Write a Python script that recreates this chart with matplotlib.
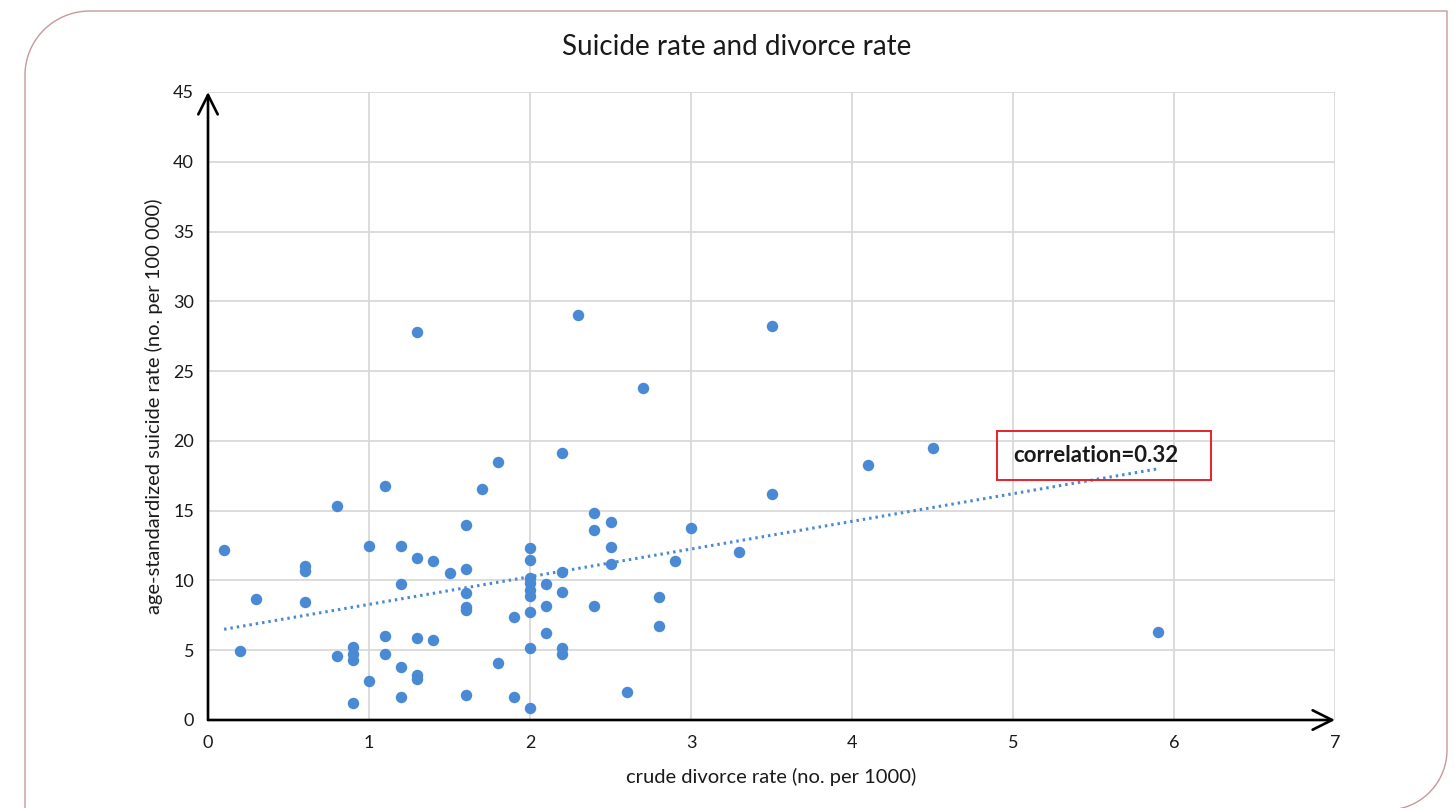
import numpy as np
import matplotlib.pyplot as plt
from matplotlib.path import Path
from matplotlib.patches import PathPatch, Rectangle

# crude divorce rate (no. per 1000) for each country
divorce_rate = [
    0.1, 0.2, 0.3, 0.6, 0.6, 0.6, 0.8, 0.8, 0.9, 0.9, 0.9, 0.9,
    1.0, 1.0, 1.1, 1.1, 1.1, 1.2, 1.2, 1.2, 1.2, 1.3, 1.3, 1.3, 1.3, 1.3,
    1.4, 1.4, 1.5, 1.6, 1.6, 1.6, 1.6, 1.6, 1.6, 1.7, 1.8, 1.8, 1.9, 1.9,
    2.0, 2.0, 2.0, 2.0, 2.0, 2.0, 2.0, 2.0, 2.0, 2.1, 2.1, 2.1,
    2.2, 2.2, 2.2, 2.2, 2.2, 2.3, 2.4, 2.4, 2.4, 2.5, 2.5, 2.5, 2.6, 2.7,
    2.8, 2.8, 2.9, 3.0, 3.3, 3.5, 3.5, 4.1, 4.5, 5.9,
]
# age-standardized suicide rate (no. per 100 000), same order
suicide_rate = [
    12.2, 4.95, 8.7, 11.0, 10.7, 8.45, 15.3, 4.6, 5.2, 4.7, 4.3, 1.2,
    12.5, 2.8, 16.8, 6.0, 4.7, 12.5, 9.75, 3.8, 1.65, 27.8, 11.6, 5.9, 3.2, 2.95,
    11.4, 5.75, 10.5, 14.0, 10.8, 9.1, 8.1, 7.9, 1.8, 16.55, 18.5, 4.1, 7.4, 1.65,
    12.3, 11.5, 10.2, 9.8, 9.3, 8.9, 7.75, 5.15, 0.85, 9.75, 8.2, 6.2,
    19.1, 10.6, 9.15, 5.15, 4.7, 29.0, 14.8, 13.6, 8.2, 14.2, 12.4, 11.2, 2.0, 23.8,
    8.8, 6.7, 11.4, 13.75, 12.05, 28.2, 16.2, 18.3, 19.5, 6.3,
]

# end points of the linear trend line
trend_x = [0.1, 5.9]
trend_y = [6.5, 18.0]

correlation = 0.32

x_ticks = list(range(0, 8))
y_ticks = list(range(0, 50, 5))

W, H = 1455, 808
plt.rcParams['font.family'] = ['Lato', 'DejaVu Sans']
text_color = '#1a1a1a'
dot_color = '#4a8ad4'

fig = plt.figure(figsize=(W / 100, H / 100), dpi=100)

# rounded frame around the whole chart (pixel coordinates)
frame_ax = fig.add_axes([0, 0, 1, 1])
frame_ax.set_xlim(0, W)
frame_ax.set_ylim(H, 0)
frame_ax.axis('off')
t1 = np.linspace(np.pi, 1.5 * np.pi, 30)
t2 = np.linspace(0, 0.5 * np.pi, 30)
px = np.concatenate([[25], 90 + 65 * np.cos(t1), [1447], 1387 + 60 * np.cos(t2)])
py = np.concatenate([[820], 75 + 64 * np.sin(t1), [11], 750 + 60 * np.sin(t2)])
frame_ax.add_patch(PathPatch(Path(np.column_stack([px, py])), fill=False,
                             edgecolor='#c9979d', lw=1.0))

ax = fig.add_axes([208 / W, 1 - 720 / H, 1127 / W, 628 / H])
ax.set_xlim(0, 7)
ax.set_ylim(0, 45)
ax.set_xticks(x_ticks)
ax.set_yticks(y_ticks)
ax.grid(True, color='#d6d6d6', lw=1.2)
ax.set_axisbelow(True)
for s in ax.spines.values():
    s.set_visible(False)
ax.tick_params(length=0, labelsize=13, colors=text_color)
ax.tick_params(axis='x', pad=11)
ax.tick_params(axis='y', pad=10)

# axis arrows
arrow = dict(arrowstyle='->,head_length=0.7,head_width=0.35', lw=1.9,
             color='black', shrinkA=0, shrinkB=0, mutation_scale=20)
ax.annotate('', xy=(1, 0), xytext=(0, 0), xycoords='axes fraction',
            arrowprops=arrow, annotation_clip=False)
ax.annotate('', xy=(0, 1), xytext=(0, 0), xycoords='axes fraction',
            arrowprops=arrow, annotation_clip=False)

ax.scatter(divorce_rate, suicide_rate, s=68, color=dot_color, zorder=3,
           linewidths=0, clip_on=False)
ax.plot(trend_x, trend_y, color=dot_color, lw=2.2, linestyle=(0, (0.8, 1.3)),
        zorder=2)

# correlation label box
ax.add_patch(Rectangle((4.9, 17.2), 1.33, 3.5, fill=False, edgecolor='#e8202a',
                       lw=1.4, zorder=4))
ax.text(5.0, 18.95, f'correlation={correlation:.2f}', fontsize=16,
        fontweight='bold', color=text_color, va='center', ha='left', zorder=5)

ax.set_xlabel('crude divorce rate (no. per 1000)', fontsize=14.5, color=text_color)
ax.xaxis.set_label_coords(0.5, -0.091)
ax.xaxis.label.set_va('center')
ax.set_ylabel('age-standardized suicide rate (no. per 100 000)', fontsize=14.5,
              color=text_color)
ax.yaxis.set_label_coords(-0.048, 0.5)
ax.yaxis.label.set_va('center')

fig.text(737 / W, 1 - 47 / H, 'Suicide rate and divorce rate', fontsize=20,
         color=text_color, ha='center', va='center')

fig.savefig('out.png', dpi=100)
